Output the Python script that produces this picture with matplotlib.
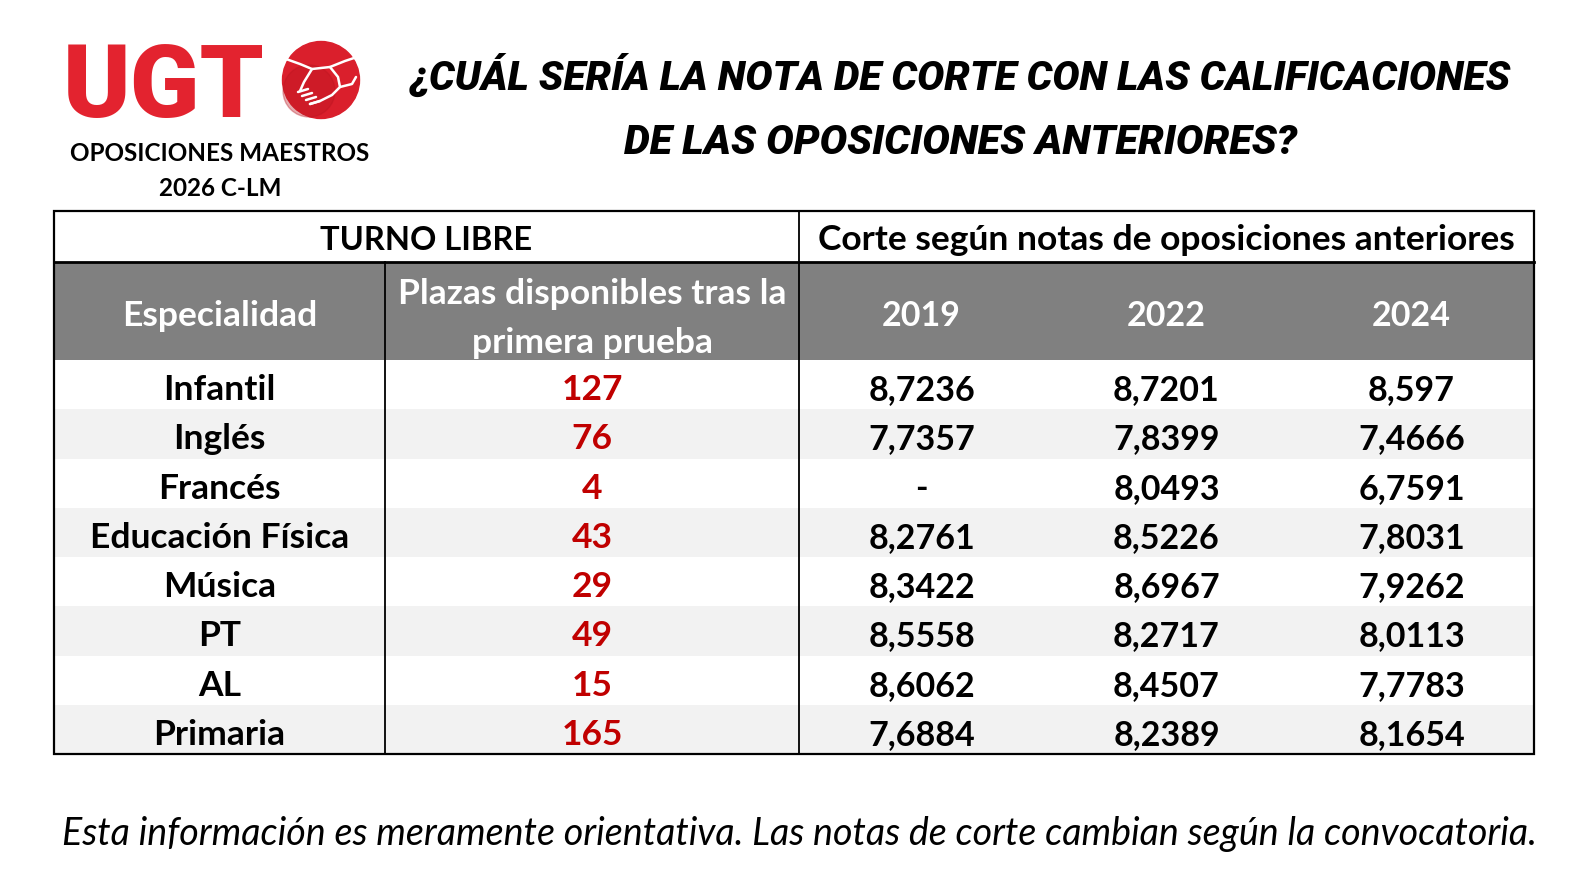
import matplotlib
matplotlib.use('Agg')
import matplotlib.pyplot as plt
from matplotlib.patches import Rectangle, Circle
import warnings
warnings.filterwarnings('ignore')

# ---------------- data ----------------
especialidades = ["Infantil", "Inglés", "Francés", "Educación Física", "Música", "PT", "AL", "Primaria"]
plazas = [127, 76, 4, 43, 29, 49, 15, 165]
years = ["2019", "2022", "2024"]
corte_2019 = [8.7236, 7.7357, None, 8.2761, 8.3422, 8.5558, 8.6062, 7.6884]
corte_2022 = [8.7201, 7.8399, 8.0493, 8.5226, 8.6967, 8.2717, 8.4507, 8.2389]
corte_2024 = [8.597, 7.4666, 6.7591, 7.8031, 7.9262, 8.0113, 7.7783, 8.1654]

title_lines = ["¿CUÁL SERÍA LA NOTA DE CORTE CON LAS CALIFICACIONES",
               "DE LAS OPOSICIONES ANTERIORES?"]
logo_text = "UGT"
subtitle_lines = ["OPOSICIONES MAESTROS", "2026 C-LM"]
group_headers = ["TURNO LIBRE", "Corte según notas de oposiciones anteriores"]
col_headers = ["Especialidad", "Plazas disponibles tras la\nprimera prueba"]
footer = "Esta información es meramente orientativa. Las notas de corte cambian según la convocatoria."

# ---------------- figure ----------------
W, H = 1574, 878
fig = plt.figure(figsize=(W / 100, H / 100), dpi=100)
ax = fig.add_axes([0, 0, 1, 1])
ax.set_xlim(0, W)
ax.set_ylim(H, 0)
ax.axis('off')
renderer = fig.canvas.get_renderer()

FONT = ['Lato', 'DejaVu Sans']
RED = '#C00000'


def fit_text(x, y, s, target_w, **kw):
    t = ax.text(x, y, s, **kw)
    bb = t.get_window_extent(renderer=renderer)
    t.set_fontsize(t.get_fontsize() * target_w / bb.width)
    return t


def fmt(v):
    return '-' if v is None else str(v).replace('.', ',')


# ---------------- logo ----------------
ax.text(63, 117, logo_text, fontsize=73.5, fontweight='heavy', family=['Roboto', 'DejaVu Sans'],
        color='#E3232F', ha='left', va='baseline')
ax.add_patch(Circle((321, 81), 38.5, color='#DA1F2C', zorder=2))
ax.add_patch(Circle((309, 92), 26, color='#B8141F', alpha=0.35, zorder=2))
hand = dict(color='white', lw=1.8, solid_capstyle='round', zorder=3)
ax.plot([286, 300, 312, 330, 345, 357], [60, 65, 70, 68, 62, 58], **hand)
ax.plot([312, 304, 300], [70, 83, 92], **hand)
ax.plot([330, 338, 340, 332, 320, 310], [68, 78, 88, 96, 102, 105], **hand)
for k in range(4):
    ax.plot([298 + 4 * k, 308 + 4 * k], [93 + 4 * k, 90 + 4 * k], **hand)
ax.plot([340, 352, 356], [88, 85, 78], **hand)

for i, s in enumerate(subtitle_lines):
    ax.text(220, 161 + 35 * i, s, fontsize=17.5, fontweight='bold', family=FONT,
            color='black', ha='center', va='baseline')

# ---------------- title ----------------
tkw = dict(fontsize=28, fontweight='heavy', fontstyle='italic',
           family=['Roboto', 'DejaVu Sans'], ha='center', va='baseline')
fit_text(961, 90, title_lines[0], 1102, **tkw)
fit_text(961, 154, title_lines[1], 674, **tkw)

# ---------------- table ----------------
X = [54, 385, 799, 1044, 1289, 1534]
Y0, Y1, Y2, Y3 = 212, 263, 361, 755
n = len(especialidades)
rh = (Y3 - Y2) / n

ax.add_patch(Rectangle((X[0], Y1), X[5] - X[0], Y2 - Y1, color='#808080', lw=0))
for i in range(n):
    if i % 2 == 1:
        ax.add_patch(Rectangle((X[0], Y2 + i * rh), X[5] - X[0], rh, color='#F2F2F2', lw=0))

lk = dict(color='black', zorder=5, solid_capstyle='projecting')
ax.plot([X[0], X[5]], [Y1, Y1], lw=2.0, **lk)
ax.plot([X[2], X[2]], [Y0, Y3], lw=1.3, **lk)
ax.plot([X[1], X[1]], [Y1, Y3], lw=1.3, **lk)
ax.add_patch(Rectangle((X[0], Y0), X[5] - X[0], Y3 - Y0, fill=False, lw=1.6, ec='black', zorder=6))

FS = 25.5
CAP = 14.5
HFS = 25.5
# group headers
ax.text((X[0] + X[2]) / 2, (Y0 + Y1) / 2 + 13, group_headers[0], fontsize=23.5, fontweight='bold',
        family=FONT, ha='center', va='baseline')
ax.text((X[2] + X[5]) / 2, (Y0 + Y1) / 2 + 13, group_headers[1], fontsize=25.5, fontweight='bold',
        family=FONT, ha='center', va='baseline')
# column headers
hc = (Y1 + Y2) / 2
ax.text((X[0] + X[1]) / 2, hc + CAP, col_headers[0], fontsize=HFS, fontweight='bold', family=FONT,
        color='white', ha='center', va='baseline')
l1, l2 = col_headers[1].split('\n')
ax.text((X[1] + X[2]) / 2, 290 + CAP, l1, fontsize=HFS, fontweight='bold', family=FONT,
        color='white', ha='center', va='baseline')
ax.text((X[1] + X[2]) / 2, 339 + CAP, l2, fontsize=HFS, fontweight='bold', family=FONT,
        color='white', ha='center', va='baseline')
for j, yv in enumerate(years):
    ax.text((X[2 + j] + X[3 + j]) / 2, hc + CAP, yv, fontsize=24.5, fontweight='bold', family=FONT,
            color='white', ha='center', va='baseline')

# body
cols = [corte_2019, corte_2022, corte_2024]
for i in range(n):
    yb = Y2 + (i + 0.5) * rh + CAP
    ax.text((X[0] + X[1]) / 2, yb, especialidades[i], fontsize=FS, fontweight='bold', family=FONT,
            color='black', ha='center', va='baseline')
    ax.text((X[1] + X[2]) / 2, yb, str(plazas[i]), fontsize=FS, fontweight='bold', family=FONT,
            color=RED, ha='center', va='baseline')
    for j, c in enumerate(cols):
        ax.text((X[2 + j] + X[3 + j]) / 2, yb, fmt(c[i]), fontsize=24.5, fontweight='bold', family=FONT,
                color='black', ha='center', va='baseline')

# ---------------- footer ----------------
fit_text(799, 845, footer, 1478, fontsize=24, fontstyle='italic', family=FONT,
         color='black', ha='center', va='baseline')

fig.savefig('out.png', dpi=100)
